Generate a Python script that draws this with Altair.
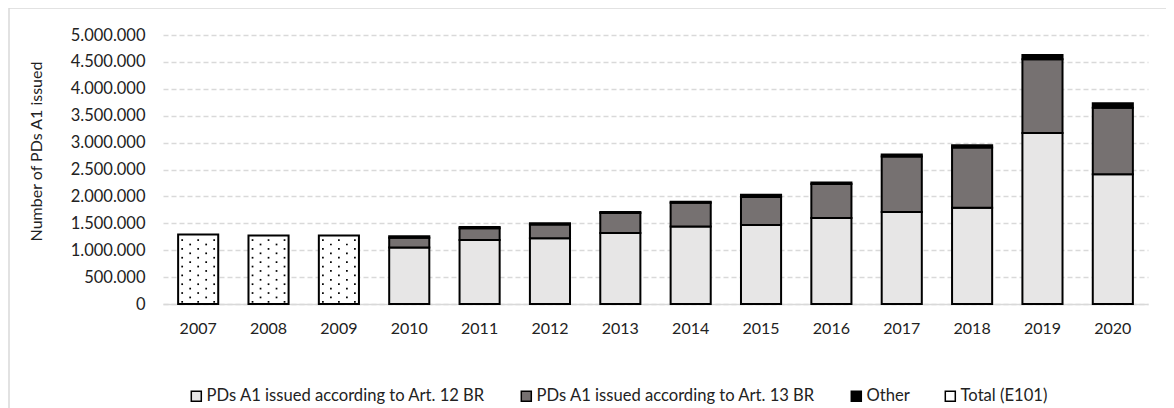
import altair as alt
import pandas as pd

years = [str(y) for y in range(2007, 2021)]
art12 = [None, None, None, 1050000, 1190000, 1220000, 1320000, 1440000, 1470000, 1600000, 1710000, 1790000, 3180000, 2410000]
art13 = [None, None, None, 180000, 220000, 260000, 370000, 440000, 520000, 630000, 1030000, 1120000, 1370000, 1240000]
other = [None, None, None, 30000, 20000, 20000, 20000, 20000, 40000, 30000, 40000, 40000, 80000, 80000]
total_e101 = [1290000, 1275000, 1275000, None, None, None, None, None, None, None, None, None, None, None]

series = ["PDs A1 issued according to Art. 12 BR", "PDs A1 issued according to Art. 13 BR", "Other", "Total (E101)"]
fills = ["#e7e6e6", "#767171", "#000000", "#ffffff"]
y_ticks = [0, 500000, 1000000, 1500000, 2000000, 2500000, 3000000, 3500000, 4000000, 4500000, 5000000]

rows = []
for i, yr in enumerate(years):
    for k, vals in enumerate([art12, art13, other, total_e101]):
        v = vals[i]
        if v is not None:
            rows.append({"year": yr, "series": series[k], "value": v, "ord": k})
df = pd.DataFrame(rows)

TXT = "#222222"

x_enc = alt.X(
    "year:O", title=None, sort=years,
    scale=alt.Scale(paddingInner=0.43, paddingOuter=0.215),
    axis=alt.Axis(labelAngle=0, ticks=False, domainColor="#d9d9d9", domainWidth=1.5,
                  labelPadding=16, labelFontSize=16, labelColor=TXT),
)

y_axis = alt.Axis(
    title="Number of PDs A1 issued", values=y_ticks,
    labelExpr="replace(format(datum.value, ','), regexp(',', 'g'), '.')",
    domain=False, ticks=False, grid=True, gridColor="#d9d9d9", gridDash=[5, 3], gridWidth=1.3,
    labelPadding=18, labelFontSize=16.5, labelColor=TXT,
    titleFontSize=16, titleFontWeight="normal", titleColor=TXT,
    titleX=-127, titleY=116, titleAngle=270, titleAlign="center", titleBaseline="middle",
)
y_scale = alt.Scale(domain=[0, 5000000], nice=False)

bars = alt.Chart(df).mark_bar(stroke="black", strokeWidth=2).encode(
    x=x_enc,
    y=alt.Y("value:Q", stack="zero", scale=y_scale, axis=y_axis),
    color=alt.Color(
        "series:N",
        scale=alt.Scale(domain=series, range=fills),
        legend=alt.Legend(
            orient="none", legendX=25, legendY=353, direction="horizontal", title=None,
            symbolType="square", symbolSize=100, symbolStrokeColor="black", symbolStrokeWidth=1.5,
            labelFontSize=16.6, labelColor=TXT, labelLimit=500, columnPadding=32, labelOffset=2, padding=0,
        ),
    ),
    order=alt.Order("ord:Q"),
)

# dotted texture of the "Total (E101)" bars: rows derived from each bar's value
dot_base = alt.Chart(df).transform_filter(
    alt.datum.series == "Total (E101)"
).transform_calculate(
    rowv="sequence(40000, datum.value - 30000, 82000)"
).transform_flatten(["rowv"]).transform_calculate(
    parity="floor(datum.rowv / 82000) % 2"
)

dot_layers = []
for c, off in enumerate([-16, -8, 0, 8, 16]):
    dot_layers.append(
        dot_base.transform_filter(alt.datum.parity == (c % 2)).mark_square(
            size=3, color="black", opacity=1, xOffset=off
        ).encode(
            x=x_enc,
            y=alt.Y("rowv:Q", scale=y_scale, axis=y_axis),
        )
    )

frame = alt.Chart(alt.Data(values=[{"a": 1}])).mark_rect(
    fill="white", fillOpacity=0, stroke="#d9d9d9", strokeWidth=1.5
).encode(x=alt.value(-154), x2=alt.value(1100), y=alt.value(-27), y2=alt.value(600))

chart = alt.layer(frame, bars, *dot_layers).properties(
    width=985, height=269,
    autosize=alt.AutoSizeParams(type="none"),
    padding={"left": 155, "top": 27, "right": 18, "bottom": 116},
).configure(font="Lato").configure_view(stroke=None)

chart.save("out.html", embed_options={"renderer": "svg", "actions": False})
